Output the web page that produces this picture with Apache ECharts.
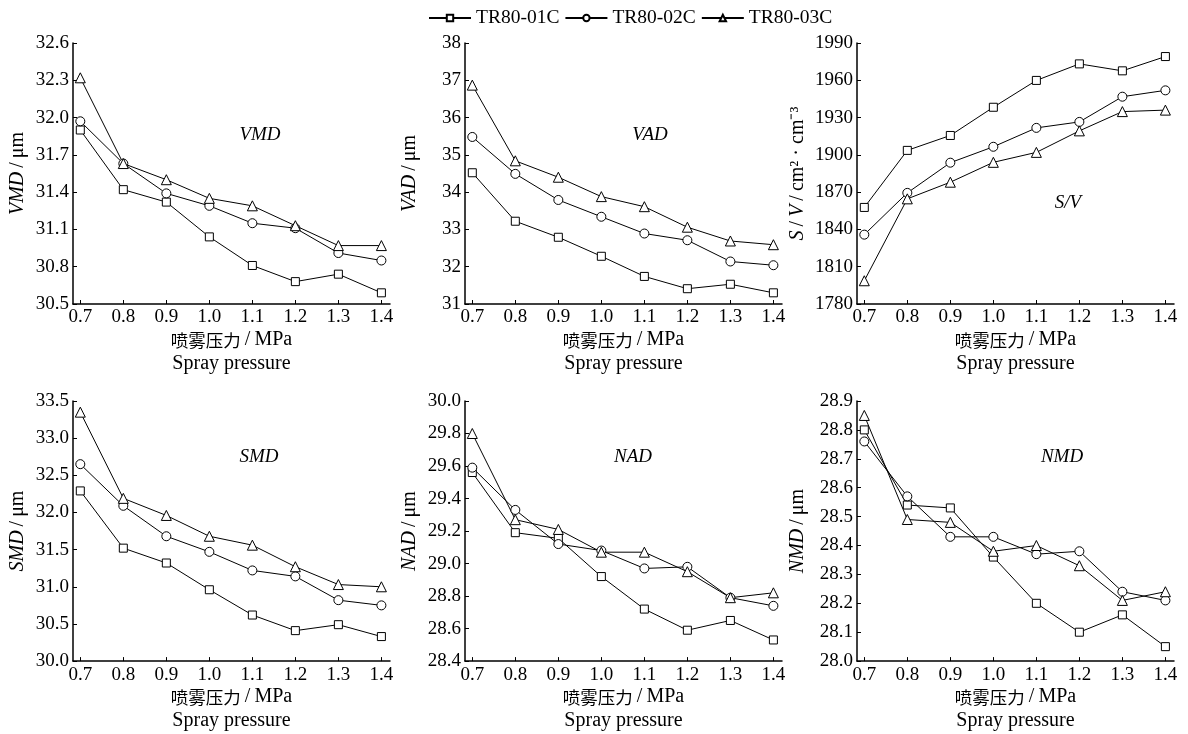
<!DOCTYPE html>
<html>
<head>
    <meta charset="utf-8">
    <title>Spray pressure</title>
    <script src="https://cdn.jsdelivr.net/npm/echarts@6/dist/echarts.min.js"></script>
</head>
<body style="margin:0;background:#fff">
<div id="main" style="width:1188px;height:734px;"></div>
<script type="text/javascript">
    // 横轴：喷雾压力 MPa
    var pressure = [0.7, 0.8, 0.9, 1.0, 1.1, 1.2, 1.3, 1.4];
    var seriesNames = ['TR80-01C', 'TR80-02C', 'TR80-03C'];

    // VMD
    var vmd01 = [31.90, 31.42, 31.32, 31.04, 30.81, 30.68, 30.74, 30.59];
    var vmd02 = [31.97, 31.63, 31.39, 31.29, 31.15, 31.11, 30.91, 30.85];
    var vmd03 = [32.32, 31.63, 31.50, 31.35, 31.29, 31.13, 30.97, 30.97];
    var vmdTicks = [30.5, 30.8, 31.1, 31.4, 31.7, 32.0, 32.3, 32.6];

    // VAD
    var vad01 = [34.52, 33.22, 32.79, 32.28, 31.74, 31.41, 31.53, 31.30];
    var vad02 = [35.48, 34.49, 33.79, 33.34, 32.89, 32.71, 32.14, 32.04];
    var vad03 = [36.87, 34.84, 34.40, 33.88, 33.61, 33.06, 32.69, 32.59];
    var vadTicks = [31, 32, 33, 34, 35, 36, 37, 38];

    // S/V
    var sv01 = [1857.7, 1903.6, 1915.6, 1938.3, 1959.9, 1973.2, 1967.6, 1979.1];
    var sv02 = [1835.8, 1869.4, 1893.7, 1906.5, 1921.7, 1926.5, 1946.8, 1951.9];
    var sv03 = [1798.7, 1864.6, 1878.0, 1894.0, 1902.0, 1919.3, 1934.8, 1936.0];
    var svTicks = [1780, 1810, 1840, 1870, 1900, 1930, 1960, 1990];

    // SMD
    var smd01 = [32.29, 31.52, 31.32, 30.96, 30.62, 30.41, 30.49, 30.33];
    var smd02 = [32.65, 32.09, 31.68, 31.47, 31.22, 31.14, 30.82, 30.75];
    var smd03 = [33.35, 32.19, 31.96, 31.68, 31.56, 31.27, 31.03, 31.00];
    var smdTicks = [30.0, 30.5, 31.0, 31.5, 32.0, 32.5, 33.0, 33.5];

    // NAD
    var nad01 = [29.56, 29.19, 29.155, 28.92, 28.72, 28.59, 28.65, 28.53];
    var nad02 = [29.59, 29.33, 29.12, 29.08, 28.97, 28.98, 28.79, 28.74];
    var nad03 = [29.80, 29.27, 29.21, 29.07, 29.07, 28.95, 28.79, 28.82];
    var nadTicks = [28.4, 28.6, 28.8, 29.0, 29.2, 29.4, 29.6, 29.8, 30.0];

    // NMD
    var nmd01 = [28.80, 28.54, 28.53, 28.36, 28.20, 28.10, 28.16, 28.05];
    var nmd02 = [28.76, 28.57, 28.43, 28.43, 28.37, 28.38, 28.24, 28.21];
    var nmd03 = [28.85, 28.49, 28.48, 28.38, 28.40, 28.33, 28.21, 28.24];
    var nmdTicks = [28.0, 28.1, 28.2, 28.3, 28.4, 28.5, 28.6, 28.7, 28.8, 28.9];

    var serif = 'Liberation Serif';
    var symbols = ['rect', 'circle', 'triangle'];
    var symbolSizes = [8, 9, 10];

    var panels = [
        {data: [vmd01, vmd02, vmd03], ticks: vmdTicks, dec: 1, name: '{i|VMD}\u2009/\u2009μm', tag: 'VMD', tx: 260, ty: 135},
        {data: [vad01, vad02, vad03], ticks: vadTicks, dec: 0, name: '{i|VAD}\u2009/\u2009μm', tag: 'VAD', tx: 650, ty: 135},
        {data: [sv01, sv02, sv03], ticks: svTicks, dec: 0, name: '{i|S}\u2009/\u2009{i|V}\u2009/\u2009cm² · cm⁻³', tag: 'S/V', tx: 1068, ty: 203},
        {data: [smd01, smd02, smd03], ticks: smdTicks, dec: 1, name: '{i|SMD}\u2009/\u2009μm', tag: 'SMD', tx: 259, ty: 457},
        {data: [nad01, nad02, nad03], ticks: nadTicks, dec: 1, name: '{i|NAD}\u2009/\u2009μm', tag: 'NAD', tx: 633, ty: 457},
        {data: [nmd01, nmd02, nmd03], ticks: nmdTicks, dec: 1, name: '{i|NMD}\u2009/\u2009μm', tag: 'NMD', tx: 1062, ty: 457}
    ];

    var lefts = [73, 465, 857];
    var grids = [], xAxes = [], yAxes = [], series = [], graphics = [];

    panels.forEach(function (p, k) {
        var row = Math.floor(k / 3), col = k % 3;
        grids.push({
            left: lefts[col], width: 317,
            top: row === 0 ? 43 : 401,
            height: row === 0 ? 261 : 264
        });
        xAxes.push({
            type: 'value', gridIndex: k, min: 0.683, max: 1.42,
            name: '{c|喷雾压力}{l|\u2009/\u2009MPa}\n{l|Spray pressure}',
            nameLocation: 'middle', nameGap: 21,
            nameTextStyle: {
                color: '#000', lineHeight: 24,
                rich: {
                    c: {fontFamily: 'Noto Sans CJK SC', fontSize: 17.5, color: '#000', lineHeight: 24},
                    l: {fontFamily: serif, fontSize: 20, color: '#000', lineHeight: 24}
                }
            },
            axisLine: {lineStyle: {color: '#000', width: 1.5}},
            axisTick: {inside: true, length: 4, customValues: pressure, lineStyle: {color: '#000'}},
            axisLabel: {
                customValues: pressure, margin: 4, color: '#000', fontFamily: serif, fontSize: 19,
                formatter: function (v) { return v.toFixed(1); }
            },
            splitLine: {show: false}
        });
        var t = p.ticks;
        yAxes.push({
            type: 'value', gridIndex: k, min: t[0], max: t[t.length - 1],
            name: p.name, nameLocation: 'middle', nameGap: k % 3 === 2 ? 49 : 45, nameRotate: 90,
            nameTextStyle: {
                fontFamily: serif, fontSize: 20, color: '#000',
                rich: {i: {fontStyle: 'italic', fontFamily: serif, fontSize: 20, color: '#000'}}
            },
            axisLine: {show: true, lineStyle: {color: '#000', width: 1.5}},
            axisTick: {show: true, inside: true, length: 4, customValues: t, lineStyle: {color: '#000'}},
            axisLabel: {
                customValues: t, margin: 4, color: '#000', fontFamily: serif, fontSize: 19,
                formatter: (function (d) { return function (v) { return v.toFixed(d); }; })(p.dec)
            },
            splitLine: {show: false}
        });
        p.data.forEach(function (vals, s) {
            series.push({
                name: seriesNames[s], type: 'line', xAxisIndex: k, yAxisIndex: k,
                data: pressure.map(function (x, i) { return [x, vals[i]]; }),
                symbol: symbols[s], symbolSize: symbolSizes[s],
                lineStyle: {color: '#000', width: 1},
                itemStyle: {color: '#fff', borderColor: '#000', borderWidth: 1},
                animation: false
            });
        });
        graphics.push({
            type: 'text', x: p.tx, y: p.ty,
            style: {
                text: p.tag, fill: '#000', font: 'italic 19px "Liberation Serif"',
                textAlign: 'center', textVerticalAlign: 'middle'
            }
        });
    });

    var myChart = echarts.init(document.getElementById('main'));
    var option = {
        backgroundColor: '#fff',
        legend: {
            data: seriesNames, top: 3, left: 423, itemWidth: 42, itemHeight: 8, itemGap: 5,
            textStyle: {fontFamily: serif, fontSize: 19.5, color: '#000'}
        },
        grid: grids,
        xAxis: xAxes,
        yAxis: yAxes,
        series: series,
        graphic: graphics
    };
    myChart.setOption(option);
</script>
</body>
</html>
